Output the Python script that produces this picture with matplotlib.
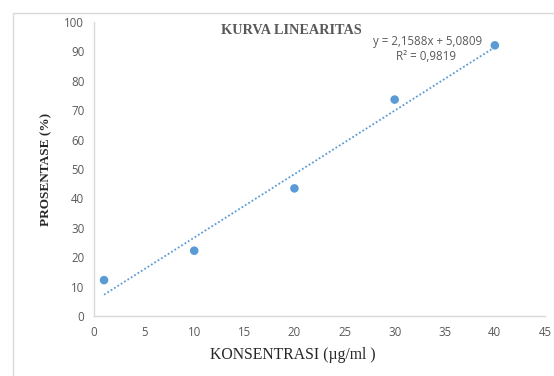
import matplotlib
matplotlib.use('Agg')
import matplotlib.pyplot as plt
import numpy as np
from matplotlib.patches import Rectangle

# konsentrasi vs prosentase
konsentrasi = [1, 10, 20, 30, 40]
prosentase = [12.2, 22.2, 43.4, 73.6, 92.05]
x_ticks = [0, 5, 10, 15, 20, 25, 30, 35, 40, 45]
y_ticks = [0, 10, 20, 30, 40, 50, 60, 70, 80, 90, 100]

# persamaan garis tren
slope = 2.1588
intercept = 5.0809
r_squared = 0.9819

blue = '#5B9BD5'
grey = '#595959'

fig = plt.figure(figsize=(5.54, 3.76), dpi=100)
ax = fig.add_axes([0.1697, 0.1596, 0.814, 0.782])

# outer chart frame
fig.patches.append(Rectangle((13 / 554, -0.1), 1.2, (376 - 13) / 376 + 0.1,
                             transform=fig.transFigure, fill=False,
                             edgecolor='#D9D9D9', lw=1.0))

ax.scatter(konsentrasi, prosentase, s=38, color=blue, zorder=3, edgecolors='none')

# linear trendline
xs = np.array([min(konsentrasi), max(konsentrasi)])
ax.plot(xs, slope * xs + intercept, color=blue, lw=1.3, linestyle=(0, (1, 1.2)), zorder=2)

eq = 'y = {:.4f}x + {:.4f}'.format(slope, intercept).replace('.', ',')
r2 = 'R² = {:.4f}'.format(r_squared).replace('.', ',')
ax.text(0.74, 0.932, eq, transform=ax.transAxes, ha='center', va='center',
        fontsize=8.3, color=grey, family='Open Sans')
ax.text(0.737, 0.884, r2, transform=ax.transAxes, ha='center', va='center',
        fontsize=8.3, color=grey, family='Open Sans')

ax.text(0.437, 0.97, 'KURVA LINEARITAS', transform=ax.transAxes, ha='center', va='center',
        fontsize=10.3, fontweight='bold', color=grey, family='Liberation Serif')

ax.set_xlim(0, 45)
ax.set_ylim(0, 100)
ax.set_xticks(x_ticks)
ax.set_yticks(y_ticks)
ax.tick_params(length=0, labelsize=8.3, labelcolor=grey, pad=7)
for lab in ax.get_xticklabels() + ax.get_yticklabels():
    lab.set_family('Open Sans')

for side in ['top', 'right']:
    ax.spines[side].set_visible(False)
for side in ['left', 'bottom']:
    ax.spines[side].set_color('#D9D9D9')
    ax.spines[side].set_linewidth(1.0)

ax.set_xlabel('KONSENTRASI (µg/ml )', fontsize=11.3, family='Liberation Serif',
              color='#262626', va='center')
ax.xaxis.set_label_coords(0.441, -0.133)
ax.set_ylabel('PROSENTASE (%)', fontsize=9.5, fontweight='bold', family='Liberation Serif',
              color='#262626', va='center')
ax.yaxis.set_label_coords(-0.105, 0.5)

fig.savefig('out.png', dpi=100)
